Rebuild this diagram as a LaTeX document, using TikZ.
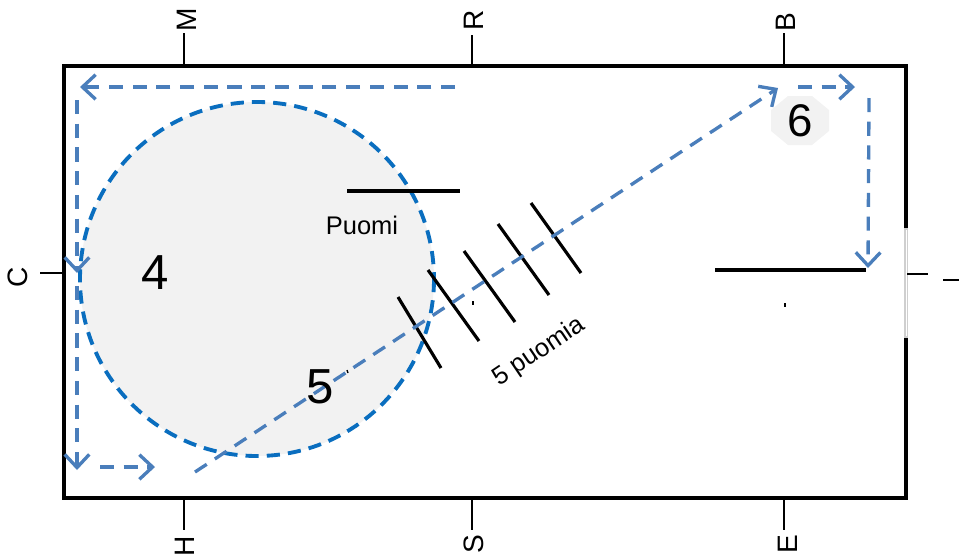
\documentclass[tikz,border=0pt]{standalone}
\usepackage{fontspec}
\setmainfont{Liberation Sans}
\usetikzlibrary{arrows.meta}
\definecolor{arrowblue}{HTML}{4A7EBB}
\definecolor{circblue}{HTML}{0A6EBF}
\definecolor{lightfill}{HTML}{F2F2F2}
\definecolor{doorgray}{HTML}{CFCFCF}
\begin{document}
\begin{tikzpicture}[x=0.02cm,y=-0.02cm,
  route/.style={draw=arrowblue, line width=1.9pt, dash pattern=on 8pt off 5.5pt,
    -{Straight Barb[length=7.5pt,width=14pt]}},
  wall/.style={draw=black, line width=1.8pt},
  tickline/.style={draw=black, line width=0.8pt},
  letter/.style={font=\fontsize{16}{18}\selectfont, rotate=90, inner sep=0pt},
  pole/.style={draw=black, line width=1.8pt},
  bar/.style={draw=black, line width=2.3pt},
  bignum/.style={font=\fontsize{28}{32}\selectfont, inner sep=0pt},
  label/.style={font=\fontsize{14.5}{17}\selectfont, inner sep=0pt},
  speck/.style={draw=black, line width=0.8pt}
]
\useasboundingbox (0,0) rectangle (959,559);

% arena outline with gap (door) on the right side
\draw[wall] (906,228) -- (906,66) -- (64,66) -- (64,498) -- (906,498) -- (906,338);
\draw[draw=doorgray, line width=2pt] (906,228) -- (906,338);
\draw[draw=white, line width=0.5pt] (906,230) -- (906,336);

% letter ticks and letters
\node[letter] (M) at (187,20) {M};
\node[letter] (R) at (474,20) {R};
\node[letter] (B) at (786,22) {B};
\node[letter] (C) at (18,277) {C};
\node[letter] (H) at (185,546) {H};
\node[letter] (S) at (474,544) {S};
\node[letter] (E) at (788,544) {E};
\coordinate (mt) at (184,66); \coordinate (mb) at (184,33);
\coordinate (rt) at (472,66); \coordinate (rb) at (472,35);
\coordinate (bt) at (784,66); \coordinate (bb) at (784,33);
\coordinate (ct) at (64,273); \coordinate (cb) at (40,273);
\coordinate (ht) at (184,498); \coordinate (hb) at (184,530);
\coordinate (st) at (472,498); \coordinate (sb) at (472,530);
\coordinate (et) at (784,498); \coordinate (eb) at (784,530);
\coordinate (at) at (907,274); \coordinate (ab) at (928,274);
\draw[tickline] (mt) -- (mb);
\draw[tickline] (rt) -- (rb);
\draw[tickline] (bt) -- (bb);
\draw[tickline] (ct) -- (cb);
\draw[tickline] (ht) -- (hb);
\draw[tickline] (st) -- (sb);
\draw[tickline] (et) -- (eb);
\draw[tickline] (at) -- (ab);
\coordinate (ra1) at (943,280); \coordinate (ra2) at (959,280);
\draw[draw=black, line width=1.1pt] (ra1) -- (ra2);

% circle
\draw[draw=circblue, fill=lightfill, line width=2.2pt, dash pattern=on 7.5pt off 4.6pt]
  (257,279) circle [x radius=177, y radius=177];

% octagon behind 6
\fill[lightfill] (788,96) -- (812,96) -- (829,110) -- (829,131) -- (812,145) -- (788,145) -- (771,131) -- (771,110) -- cycle;

% bars
\coordinate (p1a) at (347,191); \coordinate (p1b) at (460,191);
\draw[bar] (p1a) -- (p1b);
\coordinate (p2a) at (715,270); \coordinate (p2b) at (866,270);
\draw[bar] (p2a) -- (p2b);

% five poles
\coordinate (q1a) at (398,297); \coordinate (q1b) at (441,368);
\coordinate (q2a) at (428,270); \coordinate (q2b) at (479,341);
\coordinate (q3a) at (464,251); \coordinate (q3b) at (515,322);
\coordinate (q4a) at (498,224); \coordinate (q4b) at (549,295);
\coordinate (q5a) at (531,203); \coordinate (q5b) at (581,273);
\draw[pole] (q1a) -- (q1b);
\draw[pole] (q2a) -- (q2b);
\draw[pole] (q3a) -- (q3b);
\draw[pole] (q4a) -- (q4b);
\draw[pole] (q5a) -- (q5b);

% route arrows
\coordinate (a1s) at (455,87);  \coordinate (a1e) at (80,87);
\coordinate (a2s) at (77,100);  \coordinate (a2e) at (77,273);
\coordinate (a3s) at (77,286);  \coordinate (a3e) at (77,470);
\coordinate (a4s) at (100,467); \coordinate (a4e) at (155,467);
\coordinate (a5s) at (195,472); \coordinate (a5e) at (778,88);
\coordinate (a6s) at (798,87);  \coordinate (a6e) at (855,87);
\coordinate (a7s) at (869,98);  \coordinate (a7e) at (868,268);
\draw[route] (a1s) -- (a1e);
\draw[route] (a2s) -- (a2e);
\draw[route] (a3s) -- (a3e);
\draw[route] (a4s) -- (a4e);
\draw[route] (a5s) -- (a5e);
\draw[route] (a6s) -- (a6e);
\draw[route] (a7s) -- (a7e);

% numbers and labels
\node[bignum] (n4) at (155,273) {4};
\node[bignum] (n5) at (320,387) {5};
\node[bignum, font=\fontsize{26}{30}\selectfont] (n6) at (800,121) {6};
\node[label, anchor=base] (puomi) at (362,234) {Puomi};
\node[label, rotate=34] (viisi) at (539,352) {5 puomia};

% small specks
\coordinate (s1a) at (473,301); \coordinate (s1b) at (473,305);
\coordinate (s2a) at (785,303); \coordinate (s2b) at (785,307);
\coordinate (s3a) at (347,370); \coordinate (s3b) at (348,373);
\draw[speck] (s1a) -- (s1b);
\draw[speck] (s2a) -- (s2b);
\draw[speck] (s3a) -- (s3b);
\end{tikzpicture}
\end{document}
